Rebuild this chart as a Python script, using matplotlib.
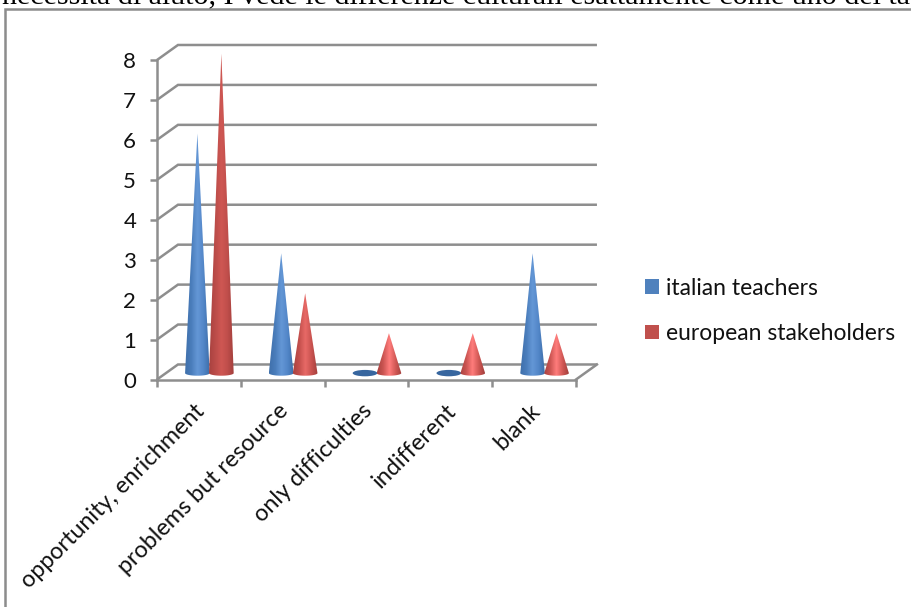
import numpy as np
import matplotlib
matplotlib.use('Agg')
import matplotlib.pyplot as plt
from matplotlib.colors import LinearSegmentedColormap
from matplotlib.patches import Ellipse, Patch, Polygon, Rectangle
from matplotlib.transforms import ScaledTranslation

# Chart data
categories = ['opportunity, enrichment', 'problems but resource',
              'only difficulties', 'indifferent', 'blank']
italian_teachers = [6, 3, 0, 0, 3]
european_stakeholders = [8, 2, 1, 1, 1]
series_names = ['italian teachers', 'european stakeholders']
y_ticks = [0, 1, 2, 3, 4, 5, 6, 7, 8]

WIDTH, HEIGHT = 912, 607
GRID = '#8e8e8e'
TEXT = '#111111'
LINE_W = 1.8

# Depth of the fake 3D box, in data units
DEPTH_X = 0.25
DEPTH_Y = 0.376
# Cones stand in the middle of the floor
FLOOR_X = 0.125
FLOOR_Y = 0.16
CONE_SHIFT = 0.143
CONE_RX = 0.147
CONE_RY = 0.065

# Shading for each series: edge, mid, and highlight by cone height
blue_map = LinearSegmentedColormap.from_list(
    'blue', ['#3f70ab', '#4a7dbb', '#6497d6', '#5286c8', '#3d6da8'])
red_tall = LinearSegmentedColormap.from_list(
    'red_tall', ['#a84240', '#bb4c49', '#cf5753', '#bf4e4b', '#a23f3c'])
red_mid = LinearSegmentedColormap.from_list(
    'red_mid', ['#a84240', '#c5504d', '#e86a67', '#c9524f', '#a23f3c'])
red_short = LinearSegmentedColormap.from_list(
    'red_short', ['#a84240', '#cc5552', '#ff7d7c', '#d25855', '#a23f3c'])


def red_for(value):
    if value > 4:
        return red_tall
    return red_mid if value > 1 else red_short


plt.rcParams['font.family'] = ['Lato', 'DejaVu Sans']

fig = plt.figure(figsize=(WIDTH / 100, HEIGHT / 100), dpi=100)
ax = fig.add_axes([157 / WIDTH, (HEIGHT - 379.5) / HEIGHT,
                   419 / WIDTH, 319.5 / HEIGHT])


def draw_cone(ax, x, value, cmap, flat_color):
    y = FLOOR_Y
    if value == 0:
        # Empty value is only the base disc
        ax.add_patch(Ellipse((x, y), 2 * CONE_RX, 2 * CONE_RY + 0.03,
                             facecolor=flat_color, edgecolor='none', zorder=3))
        return

    # Outline: apex then lower half of the base ellipse
    t = np.linspace(np.pi, 2 * np.pi, 40)
    base = np.column_stack([x + CONE_RX * np.cos(t), y + CONE_RY * np.sin(t)])
    outline = np.vstack([[x, value + y], base])
    clip = Polygon(outline, closed=True, transform=ax.transData,
                   facecolor='none', edgecolor='none')
    ax.add_patch(clip)

    # Horizontal shading across the cone
    shade = np.linspace(0, 1, 64).reshape(1, -1)
    img = ax.imshow(shade, cmap=cmap, aspect='auto', zorder=3,
                    interpolation='bilinear',
                    extent=[x - CONE_RX, x + CONE_RX,
                            y - CONE_RY, value + y])
    # The tallest cone pokes above the axes box
    img.set_clip_box(fig.bbox)
    img.set_clip_path(clip)


# Gridlines on the back wall and the slanted joins to the axis
for v in y_ticks:
    ax.plot([0, DEPTH_X, 5 + DEPTH_X], [v, v + DEPTH_Y, v + DEPTH_Y],
            color=GRID, lw=LINE_W, clip_on=False, zorder=1,
            solid_capstyle='butt', solid_joinstyle='miter')
ax.plot([5, 5 + DEPTH_X], [0, DEPTH_Y], color=GRID, lw=LINE_W,
        clip_on=False, zorder=1)

# Cones
for i in range(len(categories)):
    center = i + 0.5 + FLOOR_X
    draw_cone(ax, center - CONE_SHIFT, italian_teachers[i], blue_map, '#37669f')
    draw_cone(ax, center + CONE_SHIFT, european_stakeholders[i],
              red_for(european_stakeholders[i]), '#a23f3c')

ax.set_xlim(0, 5)
ax.set_ylim(0, 8)
ax.patch.set_alpha(0)

for side in ['top', 'right']:
    ax.spines[side].set_visible(False)
for side in ['left', 'bottom']:
    ax.spines[side].set_color(GRID)
    ax.spines[side].set_linewidth(LINE_W)

ax.set_yticks(y_ticks)
ax.tick_params(axis='y', length=5, width=LINE_W, color=GRID, pad=10,
               labelsize=16, labelcolor=TEXT)

# Ticks sit between the categories, labels on the category centres
ax.set_xticks(np.arange(len(categories) + 1))
ax.set_xticklabels([])
ax.set_xticks(np.arange(len(categories)) + 0.5, minor=True)
ax.set_xticklabels(categories, minor=True, rotation=45, ha='right',
                   rotation_mode='anchor', fontsize=16.8, color=TEXT)
ax.tick_params(axis='x', which='major', length=5, width=LINE_W, color=GRID)
ax.tick_params(axis='x', which='minor', length=0, pad=15)

# Nudge the slanted labels left of the category centre
nudge = ScaledTranslation(-5 / 100, 0, fig.dpi_scale_trans)
for label in ax.get_xticklabels(minor=True):
    label.set_transform(label.get_transform() + nudge)

handles = [Patch(facecolor='#4f81bd', edgecolor='none'),
           Patch(facecolor='#c0504d', edgecolor='none')]
fig.legend(handles, series_names, loc='center left', frameon=False,
           bbox_to_anchor=(645 / WIDTH, (HEIGHT - 311) / HEIGHT),
           fontsize=16.5, labelcolor=TEXT, handlelength=0.62, handleheight=0.62,
           handletextpad=0.28, labelspacing=1.05, borderpad=0, borderaxespad=0)

# Frame round the chart and the line of body text cut off above it
fig.add_artist(Rectangle((5 / WIDTH, -0.01), 1.0, (HEIGHT - 9) / HEIGHT + 0.01,
                         transform=fig.transFigure, facecolor='none',
                         edgecolor='#8c8c8c', lw=LINE_W))
fig.text(2 / WIDTH, (HEIGHT - 3) / HEIGHT,
         'necessità di aiuto, I vede le differenze culturali esattamente come uno dei ta',
         family='Liberation Serif', fontsize=21.6, color='black', va='baseline')

fig.savefig('out.png', dpi=100)
